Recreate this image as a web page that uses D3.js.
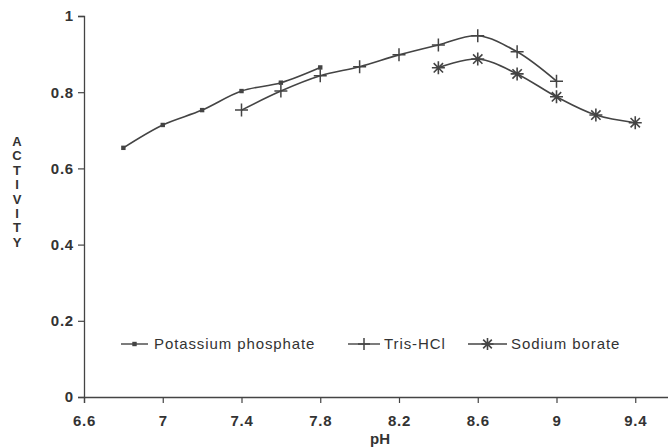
<!DOCTYPE html>
<html>
<head>
<meta charset="utf-8">
<script src="https://cdn.jsdelivr.net/npm/d3@7"></script>
<style>
  html, body { margin: 0; padding: 0; background: #fff; }
  svg text { font-family: "Liberation Sans", Arial, sans-serif; fill: #333; }
</style>
</head>
<body>
<svg id="chart" width="668" height="447"></svg>
<script>
// values
const xTicks = [6.6, 7, 7.4, 7.8, 8.2, 8.6, 9, 9.4];
const yTicks = [0, 0.2, 0.4, 0.6, 0.8, 1];

const phosphatePH = [6.8, 7.0, 7.2, 7.4, 7.6, 7.8];
const phosphateAct = [0.654, 0.714, 0.753, 0.803, 0.825, 0.865];

const trisPH = [7.4, 7.6, 7.8, 8.0, 8.2, 8.4, 8.6, 8.8, 9.0];
const trisAct = [0.753, 0.803, 0.843, 0.867, 0.898, 0.924, 0.948, 0.906, 0.829];

const boratePH = [8.4, 8.6, 8.8, 9.0, 9.2, 9.4];
const borateAct = [0.864, 0.887, 0.848, 0.788, 0.740, 0.720];

const seriesNames = ["Potassium phosphate", "Tris-HCl", "Sodium borate"];

const svg = d3.select("svg#chart");
const ink = "#444";

const x = d3.scaleLinear().domain([6.6, 9.8]).range([84, 714]);
const y = d3.scaleLinear().domain([0, 1]).range([397, 16]);

// axes
const xAxis = svg.append("g")
    .attr("transform", `translate(0, ${y(0)})`)
    .call(d3.axisBottom(x).tickValues(xTicks).tickSize(6).tickPadding(12).tickFormat(d => d));
const yAxis = svg.append("g")
    .attr("transform", `translate(${x(6.6)}, 0)`)
    .call(d3.axisLeft(y).tickValues(yTicks).tickSize(6).tickPadding(4).tickFormat(d => d));

[xAxis, yAxis].forEach(a => {
    a.select(".domain").attr("stroke", ink).attr("stroke-width", 1.3);
    a.selectAll(".tick line").attr("stroke", ink).attr("stroke-width", 1.2);
    a.selectAll(".tick text")
        .attr("fill", "#333")
        .style("font-family", "Liberation Sans, Arial, sans-serif")
        .style("font-size", "15px")
        .style("font-weight", "bold")
        .style("letter-spacing", "0.8px");
});

// axis titles
svg.append("text")
    .attr("x", 380).attr("y", 444)
    .attr("text-anchor", "middle")
    .style("font-size", "15px").style("font-weight", "bold")
    .text("pH");

// stacked vertical title, one text element
svg.append("text")
    .attr("x", 17)
    .attr("y", 134)
    .style("writing-mode", "vertical-rl")
    .style("text-orientation", "upright")
    .style("font-size", "13px")
    .style("font-weight", "bold")
    .style("letter-spacing", "-0.6px")
    .text("ACTIVITY");

// markers
function drawMarker(g, kind, cx, cy, r) {
    if (kind === 0) {
        g.append("rect")
            .attr("x", cx - 2.2).attr("y", cy - 2.2)
            .attr("width", 4.4).attr("height", 4.4)
            .attr("fill", ink);
    } else if (kind === 1) {
        g.append("path")
            .attr("d", `M${cx - r},${cy}H${cx + r}M${cx},${cy - r}V${cy + r}`)
            .attr("stroke", ink).attr("stroke-width", 1.5).attr("fill", "none");
    } else {
        const d = r * 0.72;
        g.append("path")
            .attr("d", `M${cx - r},${cy}H${cx + r}M${cx},${cy - r}V${cy + r}` +
                `M${cx - d},${cy - d}L${cx + d},${cy + d}M${cx - d},${cy + d}L${cx + d},${cy - d}`)
            .attr("stroke", ink).attr("stroke-width", 1.6).attr("fill", "none");
    }
}

const series = [
    {ph: phosphatePH, act: phosphateAct},
    {ph: trisPH, act: trisAct},
    {ph: boratePH, act: borateAct}
];

const line = d3.line()
    .x(d => x(d[0]))
    .y(d => y(d[1]))
    .curve(d3.curveCatmullRom.alpha(0.5));

series.forEach((s, k) => {
    const pts = s.ph.map((p, i) => [p, s.act[i]]);
    svg.append("path")
        .datum(pts)
        .attr("d", line)
        .attr("fill", "none")
        .attr("stroke", ink)
        .attr("stroke-width", 1.6);
    const g = svg.append("g");
    pts.forEach(p => drawMarker(g, k, x(p[0]), y(p[1]), 6.5));
});

// legend
const legendY = 344;
const legendItems = [
    {x0: 121, x1: 148, tx: 154},
    {x0: 348, x1: 380, tx: 384},
    {x0: 468, x1: 507, tx: 511}
];
legendItems.forEach((it, k) => {
    const g = svg.append("g");
    g.append("line")
        .attr("x1", it.x0).attr("x2", it.x1)
        .attr("y1", legendY).attr("y2", legendY)
        .attr("stroke", ink).attr("stroke-width", 1.4);
    drawMarker(g, k, (it.x0 + it.x1) / 2, legendY, 6);
    g.append("text")
        .attr("x", it.tx).attr("y", legendY + 5)
        .style("font-size", "15px")
        .style("letter-spacing", "0.9px")
        .attr("fill", "#333")
        .text(seriesNames[k]);
});
</script>
</body>
</html>
